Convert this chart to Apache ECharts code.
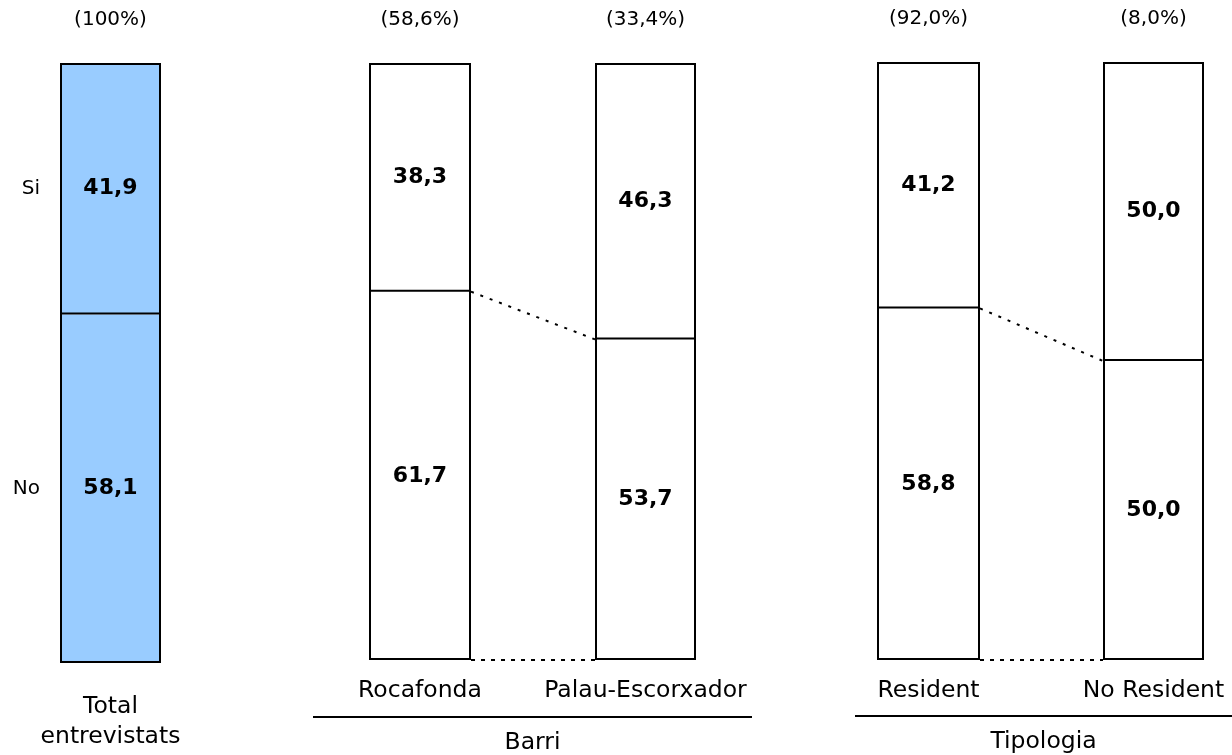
<!DOCTYPE html>
<html>
<head>
<meta charset="utf-8">
<script src="https://cdn.jsdelivr.net/npm/echarts@6/dist/echarts.min.js"></script>
<style>
html,body{margin:0;padding:0;background:#fff;}
#chart{width:1232px;height:755px;}
</style>
</head>
<body>
<div id="chart"></div>
<script>
// ---- data ----
const categories = ['Total\nentrevistats', 'Rocafonda', 'Palau-Escorxador', 'Resident', 'No Resident'];
const shares = ['(100%)', '(58,6%)', '(33,4%)', '(92,0%)', '(8,0%)'];
const siValues = [41.9, 38.3, 46.3, 41.2, 50.0];
const noValues = [58.1, 61.7, 53.7, 58.8, 50.0];
const rowLabels = ['Si', 'No'];
const groupNames = ['Barri', 'Tipologia'];
const groupMembers = [[1, 2], [3, 4]];

// ---- layout ----
const FONT = 'DejaVu Sans';
const boxes = [
  {left: 60, width: 101, top: 63, height: 600},
  {left: 369, width: 102, top: 63, height: 597},
  {left: 595, width: 101, top: 63, height: 597},
  {left: 877, width: 103, top: 62, height: 598},
  {left: 1103, width: 101, top: 62, height: 598}
];
const fills = ['#99CCFF', '#FFFFFF', '#FFFFFF', '#FFFFFF', '#FFFFFF'];
const fmt = v => v.toFixed(1).replace('.', ',');

const grid = [], xAxis = [], yAxis = [], series = [];
categories.forEach((c, i) => {
  const b = boxes[i];
  grid.push({left: b.left, top: b.top, width: b.width, height: b.height});
  xAxis.push({
    type: 'category', gridIndex: i, data: [c], position: 'bottom',
    axisLine: {show: false}, axisTick: {show: false}, splitLine: {show: false},
    axisLabel: {fontFamily: FONT, fontSize: 23.5, color: '#000', lineHeight: 30,
      margin: i === 0 ? 29 : 16, interval: 0}
  });
  xAxis.push({
    type: 'category', gridIndex: i, data: [shares[i]], position: 'top',
    axisLine: {show: false}, axisTick: {show: false}, splitLine: {show: false},
    axisLabel: {fontFamily: FONT, fontSize: 20, color: '#000', lineHeight: 24, margin: 31}
  });
  yAxis.push({type: 'value', gridIndex: i, min: 0, max: 100, show: false});
  const common = {
    type: 'bar', xAxisIndex: 2 * i, yAxisIndex: i, stack: 's' + i, barWidth: '100%', barGap: '-100%',
    label: {show: true, position: 'inside', fontFamily: FONT, fontSize: 22, fontWeight: 'bold',
      color: '#000', formatter: p => fmt(p.value)},
    emphasis: {disabled: true}, animation: false
  };
  // bottom segment: fill only
  series.push(Object.assign({}, common, {name: 'No', data: [noValues[i]], z: 2,
    itemStyle: {color: fills[i], borderWidth: 0}}));
  // top segment: its lower edge draws the dividing line
  series.push(Object.assign({}, common, {name: 'Si', data: [siValues[i]], z: 3,
    itemStyle: {color: fills[i], borderColor: '#000', borderWidth: 2}}));
  // outer frame
  series.push({type: 'bar', name: 'frame' + i, xAxisIndex: 2 * i, yAxisIndex: i, stack: 'f' + i,
    barWidth: '100%', barGap: '-100%', data: [noValues[i] + siValues[i]], z: 4, silent: true,
    itemStyle: {color: 'rgba(0,0,0,0)', borderColor: '#000', borderWidth: 2},
    emphasis: {disabled: true}, animation: false});
});
// row labels (Si / No) left of the total bar
const lblCommon = {
  type: 'bar', xAxisIndex: 0, yAxisIndex: 0, stack: 'lbl', barWidth: '100%', barGap: '-100%',
  itemStyle: {color: 'rgba(0,0,0,0)', borderWidth: 0}, silent: true, z: 1,
  emphasis: {disabled: true}, animation: false
};
series.push(Object.assign({}, lblCommon, {name: 'lblNo', data: [noValues[0]],
  label: {show: true, position: 'left', distance: 20, fontFamily: FONT, fontSize: 20, color: '#000',
    formatter: () => rowLabels[1]}}));
series.push(Object.assign({}, lblCommon, {name: 'lblSi', data: [siValues[0]],
  label: {show: true, position: 'left', distance: 20, fontFamily: FONT, fontSize: 20, color: '#000',
    formatter: () => rowLabels[0]}}));

const chart = echarts.init(document.getElementById('chart'), null, {renderer: 'canvas'});
chart.setOption({animation: false, backgroundColor: '#fff', grid, xAxis, yAxis, series});

// connectors and group headers
const groupLines = [{x1: 313, x2: 752, y: 717}, {x1: 855, x2: 1232, y: 716}];
const elements = [];
groupMembers.forEach((m, g) => {
  const a = m[0], bIdx = m[1];
  const xa = boxes[a].left + boxes[a].width;
  const xb = boxes[bIdx].left;
  const ya = chart.convertToPixel({yAxisIndex: a}, noValues[a]);
  const yb = chart.convertToPixel({yAxisIndex: bIdx}, noValues[bIdx]);
  const za = chart.convertToPixel({yAxisIndex: a}, 0);
  const zb = chart.convertToPixel({yAxisIndex: bIdx}, 0);
  elements.push({type: 'line', shape: {x1: xa, y1: ya, x2: xb, y2: yb},
    style: {stroke: '#000', lineWidth: 2, lineDash: [3, 7]}, silent: true});
  elements.push({type: 'line', shape: {x1: xa, y1: za, x2: xb, y2: zb},
    style: {stroke: '#000', lineWidth: 2, lineDash: [4, 6]}, silent: true});
  const gl = groupLines[g];
  elements.push({type: 'line', shape: {x1: gl.x1, y1: gl.y, x2: gl.x2, y2: gl.y},
    style: {stroke: '#000', lineWidth: 2}, silent: true});
  elements.push({type: 'text', x: (gl.x1 + gl.x2) / 2, y: gl.y + 26,
    style: {text: groupNames[g], fontFamily: FONT, fontSize: 23.5, fill: '#000',
      textAlign: 'center', textVerticalAlign: 'middle'}, silent: true});
});
chart.setOption({graphic: {elements}});
</script>
</body>
</html>
